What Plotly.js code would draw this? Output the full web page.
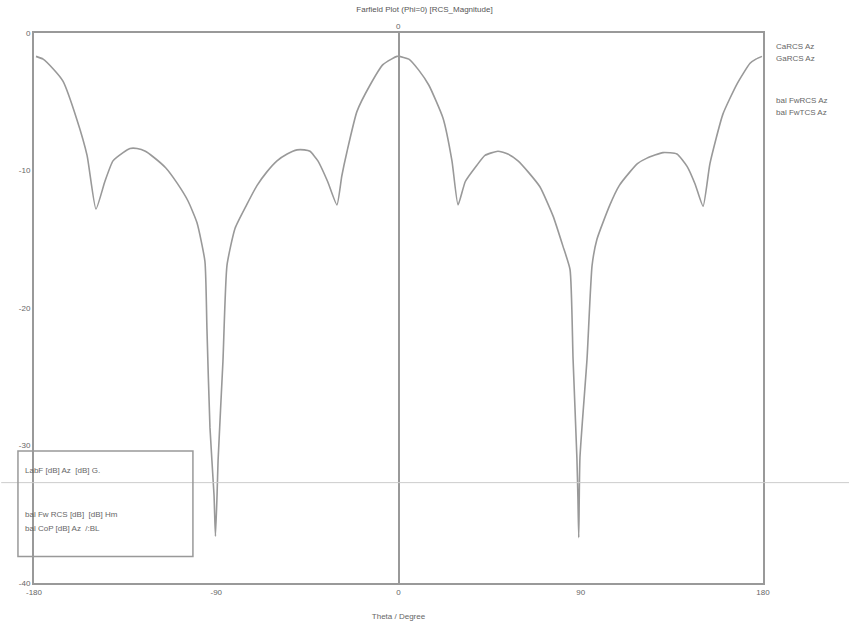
<!DOCTYPE html>
<html>
<head>
<meta charset="utf-8">
<script src="https://cdn.plot.ly/plotly-3.0.1.min.js"></script>
<style>html,body{margin:0;padding:0;background:#fff;}#chart{width:849px;height:632px;}</style>
</head>
<body>
<div id="chart"></div>
<script>
// Theta (degrees) and RCS magnitude (dB)
const theta = [-179, -175.5, -170.6, -165.7, -158.8, -153.8, -149.4, -145, -141, -136, -132.6, -129.1, -125, -121.2, -115, -109.4, -104, -99.5, -95.6, -94.6, -93.1, -91.1, -90.4,
  -89.6, -89.1, -86.7, -84.7, -80.7, -75, -69.9, -65, -60, -55, -50.1, -46.5, -43.7, -39.8, -35, -30.4, -28, -25.4, -20.5, -14.1, -7.7, -3.5, -0.7,
  0.1, 5.1, 10, 15, 22, 26.4, 29.4, 33, 38.8, 42.7, 49.1, 54, 59, 64, 69.9, 76.3, 81.2, 84.7, 86.2, 88.1, 88.6, 89.0,
  89.6, 93.1, 95.6, 98, 104.4, 109, 114.3, 118, 122.7, 130.6, 137.5, 142.5, 146.5, 150.4, 153.8, 160.2, 167.2, 173.6, 176.5, 179.5];
const rcsDb = [-1.7, -1.9, -2.6, -3.5, -6.3, -8.9, -12.8, -10.8, -9.3, -8.7, -8.4, -8.4, -8.6, -9.0, -9.8, -10.9, -12.2, -13.8, -16.6, -21.5, -28.7, -33.6, -36.6,
  -33.6, -31.1, -23.9, -16.9, -14.2, -12.5, -11.1, -10.1, -9.3, -8.8, -8.5, -8.5, -8.6, -9.3, -10.8, -12.5, -10.4, -8.6, -5.7, -3.8, -2.3, -1.9, -1.7,
  -1.7, -1.9, -2.7, -3.8, -6.2, -9.3, -12.5, -10.8, -9.6, -8.9, -8.6, -8.8, -9.3, -10.1, -11.2, -13.3, -15.5, -17.2, -23.7, -30.9, -33.8, -36.7,
  -30.9, -23.7, -16.9, -15.0, -12.5, -11.1, -10.1, -9.5, -9.1, -8.7, -8.8, -9.7, -11.0, -12.6, -9.5, -5.9, -3.7, -2.2, -1.9, -1.7];
const xTicks = [-180, -90, 0, 90, 180];
const yTicks = [0, -10, -20, -30, -40];
const titleText = "Farfield Plot (Phi=0) [RCS_Magnitude]";
const xTitle = "Theta / Degree";
const rightLegend = ["CaRCS Az", "GaRCS Az", "", "", "bal FwRCS Az", "bal FwTCS Az"];
const boxLegend = ["LabF [dB] Az  [dB] G.", "bal Fw RCS [dB]  [dB] Hm", "bal CoP [dB] Az  /:BL"];

const grey = "#999";
const txt = "#666";
const fnt = {family: "Liberation Sans, Arial, sans-serif", size: 8, color: txt};

const annotations = [];
rightLegend.forEach((t, i) => {
  if (!t) return;
  annotations.push({xref: "paper", yref: "paper", x: 1.015, y: 0.975 - i * 0.022 - (i >= 4 ? 0.01 : 0),
    xanchor: "left", yanchor: "middle", text: t, showarrow: false, font: fnt});
});
const boxY = [0.205, 0.125, 0.1];
boxLegend.forEach((t, i) => {
  annotations.push({xref: "paper", yref: "paper", x: -0.015, y: boxY[i], xanchor: "left", yanchor: "middle",
    text: t, showarrow: false, font: fnt});
});
annotations.push({xref: "x", yref: "paper", x: 0, y: 1.0, yanchor: "bottom", text: "0", showarrow: false, font: fnt});

const data = [{
  x: theta, y: rcsDb, type: "scatter", mode: "lines",
  line: {color: grey, width: 1.6, shape: "spline", smoothing: 0.5}, showlegend: false, hoverinfo: "x+y"
}];

const layout = {
  width: 849, height: 632,
  margin: {l: 34, r: 86, t: 33, b: 49},
  paper_bgcolor: "#fff", plot_bgcolor: "#fff",
  title: {text: titleText, font: {family: "Liberation Sans, Arial, sans-serif", size: 8, color: "#555"}, x: 0.5, y: 0.99, xanchor: "center", yanchor: "top"},
  xaxis: {range: [-180, 180], tickvals: xTicks, ticktext: xTicks.map(String), showgrid: false,
    zeroline: true, zerolinecolor: grey, zerolinewidth: 2,
    showline: true, mirror: true, linecolor: grey, linewidth: 2, ticks: "", tickfont: fnt,
    title: {text: xTitle, font: fnt, standoff: 18}},
  yaxis: {range: [-40, 0], tickvals: yTicks, ticktext: yTicks.map(String), showgrid: false, zeroline: false,
    showline: true, mirror: true, linecolor: grey, linewidth: 2, ticks: "", tickfont: fnt},
  shapes: [
    {type: "line", xref: "paper", yref: "y", x0: -0.045, x1: 1.12, y0: -32.7, y1: -32.7, line: {color: "#ccc", width: 1}},
    {type: "rect", xref: "paper", yref: "paper", x0: -0.022, x1: 0.218, y0: 0.048, y1: 0.24, line: {color: grey, width: 1.5}, fillcolor: "rgba(255,255,255,0)"}
  ],
  annotations: annotations
};
Plotly.newPlot("chart", data, layout, {displayModeBar: false, staticPlot: true});
</script>
</body>
</html>
